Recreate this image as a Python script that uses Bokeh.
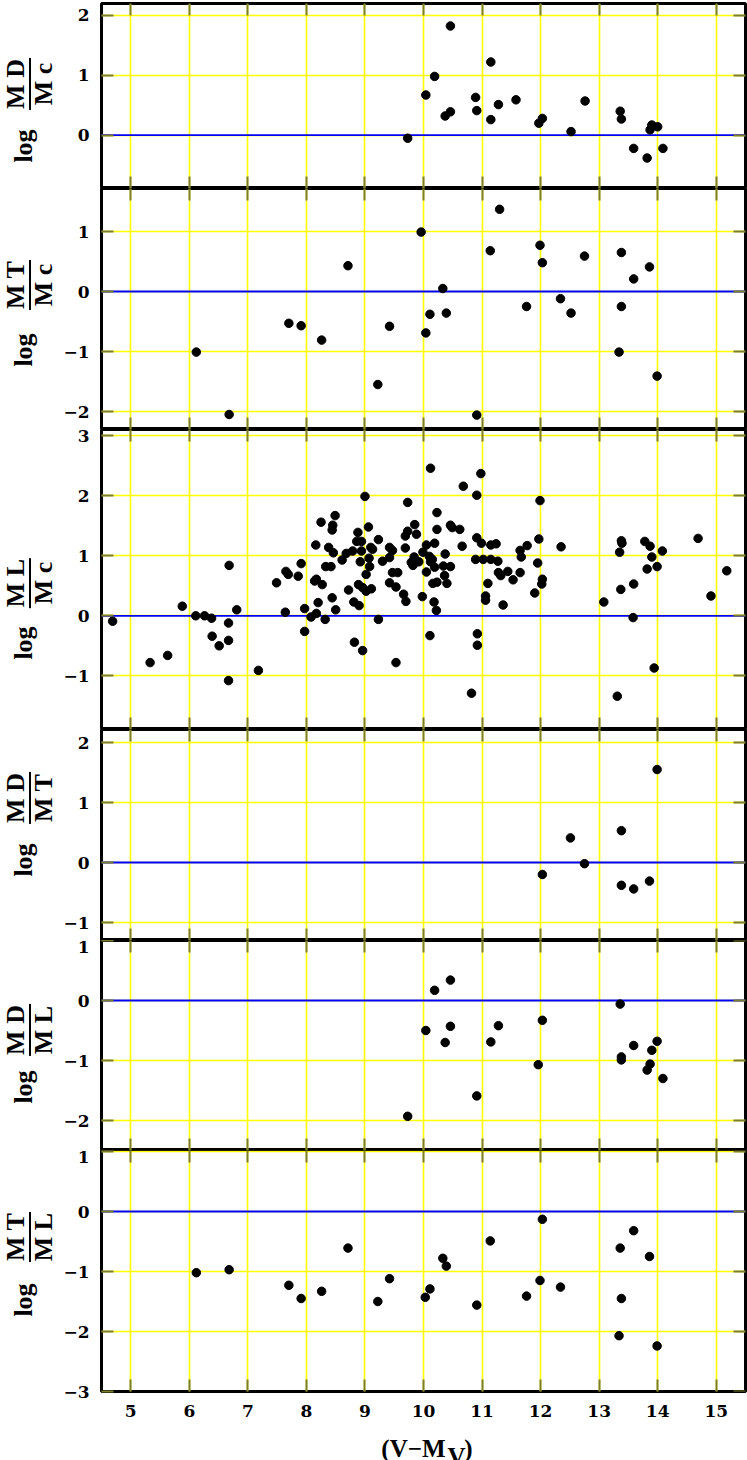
from bokeh.plotting import figure
from bokeh.models import Range1d, LinearAxis, FixedTicker, Span, Div
from bokeh.layouts import row, column
from bokeh.embed import file_html
from bokeh.resources import INLINE
from bokeh.core.properties import value

# ---------------- data ----------------
x_ticks = [5, 6, 7, 8, 9, 10, 11, 12, 13, 14, 15]
y_ticks = [-3, -2, -1, 0, 1, 2, 3]

md_mc_x = [9.73, 10.04, 10.19, 10.37, 10.46, 10.46, 10.89, 10.91, 11.15, 11.15, 11.28, 11.58,
           11.97, 12.03, 12.52, 12.76, 13.36, 13.38, 13.59, 13.82, 13.87, 13.90, 14.00, 14.09]
md_mc_y = [-0.05, 0.67, 0.98, 0.32, 0.39, 1.82, 0.63, 0.41, 1.22, 0.26, 0.51, 0.59,
           0.20, 0.28, 0.06, 0.57, 0.40, 0.27, -0.22, -0.38, 0.09, 0.17, 0.14, -0.22]

mt_mc_x = [6.12, 6.68, 7.70, 7.91, 8.26, 8.71, 9.22, 9.42, 9.96, 10.04, 10.11, 10.33, 10.39, 10.91,
           11.14, 11.30, 11.76, 11.99, 12.03, 12.34, 12.52, 12.75, 13.34, 13.38, 13.38, 13.59, 13.86, 13.99]
mt_mc_y = [-1.01, -2.05, -0.53, -0.57, -0.81, 0.43, -1.55, -0.58, 0.99, -0.69, -0.38, 0.05, -0.36, -2.06,
           0.68, 1.37, -0.25, 0.77, 0.48, -0.12, -0.36, 0.59, -1.01, 0.65, -0.25, 0.21, 0.41, -1.41]

ml_mc_x = [4.69, 5.33, 5.63, 5.88, 6.11, 6.26, 6.38, 6.39, 6.51, 6.67, 6.67, 6.68, 6.67, 6.81, 7.18,
           7.49, 7.64, 7.65, 7.69, 7.86, 7.91, 7.97, 7.97,
           8.08, 8.17, 8.20, 8.16, 8.14, 8.17, 8.27, 8.25, 8.32, 8.33, 8.42, 8.38, 8.44, 8.45, 8.49, 8.46,
           8.44, 8.50, 8.61, 8.68, 8.72, 8.79, 8.81, 8.88, 8.86, 8.94, 8.94, 8.92, 8.89, 8.90, 8.82, 8.96,
           9.00, 9.02, 9.06, 9.07, 9.08, 8.96, 9.02, 9.11, 9.10, 9.13, 9.23, 9.23, 9.30, 9.42, 9.47, 9.42,
           9.47, 9.56, 9.42, 9.53, 9.66, 9.70, 9.53, 9.73, 9.69, 9.73, 9.85, 9.88, 9.69, 9.79, 9.84, 9.82,
           9.92, 9.98, 9.99, 10.05, 10.05, 10.12, 10.10, 10.12, 10.15, 10.19, 10.23, 10.23, 10.19, 10.16,
           10.23, 10.18, 10.22, 10.11, 10.36, 10.37, 10.34, 10.40, 10.46, 10.46, 10.49, 10.62, 10.66, 10.68,
           10.91, 10.98, 10.91, 10.99, 10.89, 11.02, 10.92, 10.92, 10.82, 11.15, 11.24, 11.15, 11.27, 11.28,
           11.32, 11.44, 11.53, 11.10, 11.06, 11.06, 11.36,
           11.65, 11.67, 11.65, 11.77, 11.90, 11.95, 11.97, 11.99, 12.03, 12.02, 12.35, 13.08, 13.35, 13.38,
           13.39, 13.37, 13.31, 13.59, 13.58, 13.78, 13.87, 13.90, 13.82, 13.99, 14.08, 13.94, 14.69, 14.91,
           15.18]
ml_mc_y = [-0.09, -0.78, -0.66, 0.16, 0.00, 0.00, -0.04, -0.34, -0.50, -0.12, -0.41, 0.84, -1.08, 0.10, -0.91,
           0.55, 0.06, 0.74, 0.69, 0.66, 0.87, 0.12, -0.26,
           -0.02, 0.04, 0.22, 1.18, 0.58, 0.61, 0.52, 1.56, -0.06, 0.82, 0.82, 1.14, 1.43, 1.51, 1.67, 1.05,
           0.30, 0.10, 0.93, 1.04, 0.43, 1.08, 0.23, 1.39, 1.24, 1.24, 1.08, 0.90, 0.52, 0.17, -0.44, -0.58,
           1.99, 0.69, 1.48, 0.96, 0.82, 0.47, 0.41, 0.45, 1.14, 1.11, 1.27, -0.06, 0.91, 1.14, 1.09, 0.97,
           0.72, 0.72, 0.55, 0.48, 0.36, 0.24, -0.78, 1.89, 1.33, 1.41, 1.52, 1.36, 1.13, 0.89, 0.98, 0.84,
           0.90, 0.32, 1.06, 1.18, 0.73, 2.46, 0.99, 0.90, 0.94, 1.21, 1.72, 1.44, 0.81, 0.54,
           0.56, 0.23, 0.09, -0.33, 0.67, 1.03, 0.83, 0.54, 0.82, 1.51, 1.47, 1.44, 1.16, 2.16,
           2.01, 2.37, 1.30, 1.21, 0.94, 0.94, -0.30, -0.49, -1.29, 1.18, 1.20, 0.94, 0.91, 0.72,
           0.67, 0.74, 0.60, 0.54, 0.33, 0.26, 0.18,
           1.09, 0.98, 0.72, 1.17, 0.38, 0.88, 1.28, 1.92, 0.61, 0.53, 1.15, 0.23, 1.06, 1.25,
           1.21, 0.44, -1.34, 0.53, -0.03, 1.24, 1.16, 0.98, 0.78, 0.82, 1.08, -0.87, 1.29, 0.33,
           0.75]

md_mt_x = [12.03, 12.51, 12.75, 13.38, 13.38, 13.59, 13.86, 13.99]
md_mt_y = [-0.20, 0.41, -0.02, 0.53, -0.38, -0.44, -0.31, 1.55]

md_ml_x = [9.73, 10.04, 10.19, 10.37, 10.46, 10.46, 10.91, 11.15, 11.28, 11.96, 12.03, 13.36, 13.38, 13.38,
           13.59, 13.82, 13.87, 13.90, 13.99, 14.09]
md_ml_y = [-1.93, -0.50, 0.17, -0.70, -0.43, 0.34, -1.59, -0.69, -0.42, -1.07, -0.33, -0.06, -0.94, -0.99,
           -0.75, -1.16, -1.06, -0.83, -0.68, -1.30]

mt_ml_x = [6.12, 6.68, 7.70, 7.91, 8.26, 8.71, 9.22, 9.42, 10.03, 10.11, 10.33, 10.39, 10.91, 11.14,
           11.76, 11.99, 12.03, 12.34, 13.36, 13.38, 13.34, 13.59, 13.86, 13.99]
mt_ml_y = [-1.02, -0.97, -1.23, -1.45, -1.33, -0.61, -1.50, -1.12, -1.43, -1.29, -0.78, -0.91, -1.56, -0.49,
           -1.41, -1.15, -0.13, -1.26, -0.61, -1.45, -2.07, -0.32, -0.75, -2.24]

numerators = ["M D", "M T", "M L", "M D", "M D", "M T"]
denominators = ["M c", "M c", "M c", "M T", "M L", "M L"]
x_label_main = "(V\u2212M"
x_label_sub = "V"
x_label_close = ")"

# ---------------- layout / style ----------------
X_RANGE = (4.5, 15.5)
TICK_FONT = "DejaVu Serif"
LABEL_FONT = "Liberation Serif"
TICK_COLOR = "#7d7d2e"
GRID_COLOR = "#ffff00"
PAGE_W, PAGE_H = 747, 1460
LAB_W = 60
MAIN_W = PAGE_W - LAB_W
XLAB_H = 31

# (y_start, y_end, figure height, min_border_top, min_border_bottom)
panel_geom = [
    (-0.888, 2.195, 188, 3, 0),
    (-2.3, 1.7167, 241, 0, 0),
    (-1.895, 3.105, 300, 0, 0),
    (-1.3, 2.2167, 211, 0, 0),
    (-2.5, 1.0, 210, 0, 0),
    (-3.0, 1.0167, 279, 0, 38),
]
# page-y centres of the fraction and of "log" in the y labels
label_pos = [(83.5, 146.0), (284.5, 350.0), (583.0, 643.0),
             (798.0, 860.0), (1030.0, 1087.0), (1237.0, 1300.0)]

series = [(md_mc_x, md_mc_y), (mt_mc_x, mt_mc_y), (ml_mc_x, ml_mc_y),
          (md_mt_x, md_mt_y), (md_ml_x, md_ml_y), (mt_ml_x, mt_ml_y)]

overrides = {t: ("\u2212%d" % (-t) if t < 0 else str(t)) for t in y_ticks}


def hidden_axis(loc, ticks):
    return LinearAxis(fixed_location=loc, ticker=FixedTicker(ticks=ticks),
                      major_label_text_font_size="0px", major_label_text_alpha=0,
                      major_label_standoff=0, axis_line_color=None,
                      major_tick_in=12, major_tick_out=0,
                      major_tick_line_color=TICK_COLOR, major_tick_line_width=2,
                      minor_tick_line_color=None)


def label_axis(standoff):
    return LinearAxis(axis_line_color=None, major_tick_in=12, major_tick_out=0,
                      major_tick_line_color=TICK_COLOR, major_tick_line_width=2,
                      minor_tick_line_color=None, major_label_standoff=standoff,
                      major_label_text_font=TICK_FONT, major_label_text_font_style="bold",
                      major_label_text_font_size="17px", major_label_text_color="black")


figs = []
n = len(series)
for i, ((xs, ys), (y0, y1, h, bt, bb)) in enumerate(zip(series, panel_geom)):
    p = figure(width=MAIN_W, height=h, x_range=Range1d(*X_RANGE), y_range=Range1d(y0, y1),
               output_backend="svg", toolbar_location=None,
               x_axis_location=None, y_axis_location=None,
               min_border_left=38, min_border_right=2, min_border_top=bt, min_border_bottom=bb)
    p.outline_line_color = "black"
    p.outline_line_width = 3
    p.background_fill_color = "white"
    p.border_fill_color = "white"
    p.xgrid.ticker = FixedTicker(ticks=x_ticks)
    p.ygrid.ticker = FixedTicker(ticks=y_ticks)
    for g in (p.xgrid, p.ygrid):
        g.grid_line_color = GRID_COLOR
        g.grid_line_width = 1.6

    left = label_axis(12)
    left.ticker = FixedTicker(ticks=y_ticks)
    left.major_label_overrides = overrides
    p.add_layout(left, "left")
    p.add_layout(hidden_axis(X_RANGE[1], y_ticks), "right")
    p.add_layout(hidden_axis(y1, x_ticks), "above")
    if i < n - 1:
        p.add_layout(hidden_axis(y0, x_ticks), "below")
    else:
        bottom = label_axis(13)
        bottom.ticker = FixedTicker(ticks=x_ticks)
        p.add_layout(bottom, "below")

    p.add_layout(Span(location=0, dimension="width", line_color="#0000ff",
                      line_width=1.8, level="underlay"))
    p.scatter(xs, ys, size=8.5, marker="circle", color="black")
    figs.append(p)

# x axis title (with a lowered V), in a thin strip below the last panel (page pixel coords)
xlab = figure(width=MAIN_W, height=XLAB_H, x_range=Range1d(LAB_W, PAGE_W),
              y_range=Range1d(-PAGE_H, -(PAGE_H - XLAB_H)),
              output_backend="svg", toolbar_location=None,
              x_axis_location=None, y_axis_location=None, min_border=0)
xlab.outline_line_color = None
xlab.xgrid.visible = False
xlab.ygrid.visible = False
xstyle = dict(text_font=value(LABEL_FONT), text_font_style="bold", text_font_size="25px",
              text_color="black", text_baseline="alphabetic")
xlab.text(x=[427], y=[-1448], text=[x_label_main], text_align="right", **xstyle)
xlab.text(x=[429], y=[-1456], text=[x_label_sub], text_align="left", **xstyle)
xlab.text(x=[447], y=[-1448], text=[x_label_close], text_align="left", **xstyle)

# y-axis titles: rotated HTML text (log + stacked fraction) in a narrow column at the left
FONT_CSS = ("font-family:'Liberation Serif',serif;font-weight:bold;font-size:26px;"
            "line-height:26px;color:black;white-space:nowrap;")
ROT = ("position:absolute;left:0;top:0;transform-origin:50% 50%;"
       "transform:translate(-50%,-50%) rotate(-90deg);")


def anchor(cx, cy, inner):
    return ('<div style="position:absolute;left:%.1fpx;top:%.1fpx;width:0;height:0;">%s</div>'
            % (cx, cy, inner))


parts = []
for (fyp, lyp), num, den in zip(label_pos, numerators, denominators):
    frac = ('<div style="%s%sdisplay:flex;flex-direction:column;align-items:stretch;'
            'text-align:center;">'
            '<div style="border-bottom:2px solid black;padding:0 1px;">%s</div>'
            '<div>%s</div></div>' % (ROT, FONT_CSS, num, den))
    parts.append(anchor(30, fyp, frac))
    parts.append(anchor(24, lyp, '<div style="%s%s">log</div>' % (ROT, FONT_CSS)))

label_html = ('<div style="position:relative;width:%dpx;height:%dpx;">%s</div>'
              % (LAB_W, PAGE_H, "".join(parts)))
ylabels = Div(text=label_html, width=LAB_W, height=PAGE_H, margin=0)

layout = row(ylabels, column(*figs, xlab, spacing=0), spacing=0)
open("out.html", "w").write(file_html(layout, INLINE))
